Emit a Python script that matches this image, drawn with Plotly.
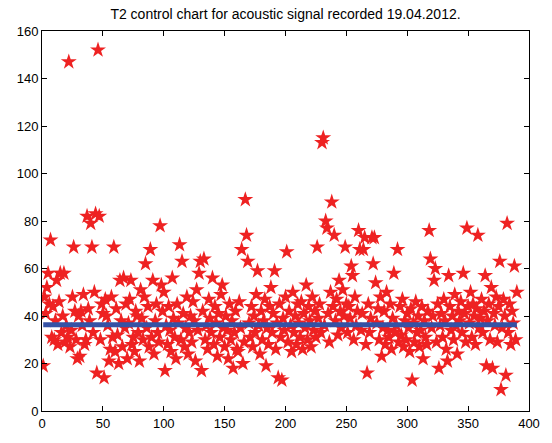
import plotly.graph_objects as go

title_text = "T2 control chart for acoustic signal recorded 19.04.2012."

t2_values = [
    19, 48, 41, 52, 58, 45, 72, 31, 44, 30,
    38, 55, 28, 46, 58, 33, 40, 58, 29, 36,
    31, 147, 27, 34, 48, 69, 42, 30, 22, 40,
    23, 42, 36, 49, 28, 30, 82, 43, 38, 79,
    69, 33, 50, 83, 16, 152, 82, 30, 45, 41,
    14, 47, 40, 36, 21, 26, 48, 31, 69, 25,
    43, 32, 20, 55, 38, 27, 56, 35, 45, 22,
    37, 47, 55, 28, 31, 25, 42, 40, 33, 21,
    51, 39, 30, 48, 62, 35, 44, 27, 68, 31,
    55, 24, 38, 45, 33, 29, 78, 53, 42, 50,
    17, 36, 28, 44, 34, 25, 56, 39, 31, 22,
    45, 37, 70, 30, 63, 41, 27, 35, 48, 24,
    33, 40, 29, 46, 38, 21, 51, 34, 58, 63,
    17, 42, 64, 30, 36, 26, 47, 39, 33, 56,
    28, 44, 37, 23, 41, 31, 49, 53, 35, 27,
    40, 34, 22, 45, 30, 38, 18, 33, 42, 26,
    25, 46, 35, 68, 20, 29, 89, 74, 63, 37,
    31, 44, 27, 40, 33, 49, 59, 36, 24, 42,
    30, 38, 47, 19, 35, 28, 44, 52, 33, 41,
    59, 26, 37, 14, 45, 31, 13, 39, 34, 48,
    67, 29, 42, 36, 25, 50, 33, 40, 28, 45,
    37, 31, 46, 26, 41, 35, 53, 30, 44, 38,
    27, 48, 34, 42, 31, 69, 39, 45, 33, 113,
    115, 36, 80, 77, 41, 29, 50, 88, 44, 74,
    38, 47, 32, 55, 42, 35, 51, 40, 69, 45,
    33, 44, 39, 61, 57, 30, 48, 36, 42, 76,
    68, 34, 41, 68, 73, 28, 16, 45, 33, 39,
    73, 62, 73, 54, 37, 43, 30, 48, 23, 35,
    42, 28, 50, 34, 31, 45, 26, 39, 58, 33,
    36, 68, 29, 44, 32, 47, 27, 38, 30, 41,
    35, 25, 43, 13, 37, 29, 46, 33, 40, 27,
    34, 44, 22, 38, 31, 28, 42, 76, 64, 35,
    40, 55, 60, 29, 45, 18, 36, 41, 31, 47,
    38, 26, 21, 57, 44, 34, 40, 30, 49, 36,
    24, 42, 38, 46, 33, 58, 41, 29, 77, 44,
    37, 50, 31, 45, 40, 28, 43, 74, 35, 39,
    47, 33, 42, 57, 19, 38, 45, 30, 52, 18,
    41, 36, 48, 29, 44, 63, 9, 35, 47, 40,
    15, 79, 33, 45, 28, 42, 37, 61, 30, 50,
]
sample_index = list(range(1, len(t2_values) + 1))
center_value = 36.3

x_ticks = [0, 50, 100, 150, 200, 250, 300, 350, 400]
y_ticks = [0, 20, 40, 60, 80, 100, 120, 140, 160]

fig = go.Figure()
fig.add_trace(go.Scatter(
    x=sample_index, y=t2_values, mode="markers",
    marker=dict(symbol="star", size=12, color="#EE2222",
                line=dict(width=0)),
    showlegend=False, hoverinfo="skip",
))
fig.add_trace(go.Scatter(
    x=[sample_index[0], sample_index[-1]], y=[center_value, center_value],
    mode="lines", line=dict(color="#3552A5", width=5),
    showlegend=False, hoverinfo="skip",
))

axis_common = dict(
    showgrid=False, zeroline=False, showline=True, linecolor="black",
    linewidth=1, mirror="ticks", ticks="inside", ticklen=5,
    tickcolor="black", tickfont=dict(family="Liberation Sans, Arial", size=13, color="black"),
)
fig.update_xaxes(range=[0, 400], tickvals=x_ticks, **axis_common)
fig.update_yaxes(range=[0, 160], tickvals=y_ticks, **axis_common)

fig.update_layout(
    width=552, height=443,
    margin=dict(l=42, r=14, t=31, b=22),
    paper_bgcolor="white", plot_bgcolor="white",
    title=dict(text=title_text, x=0.5, xref="paper", y=1 - 14 / 443,
               yref="container", yanchor="middle", xanchor="center",
               font=dict(family="Liberation Sans, Arial", size=14, color="black")),
)

fig.write_html("out.html")
